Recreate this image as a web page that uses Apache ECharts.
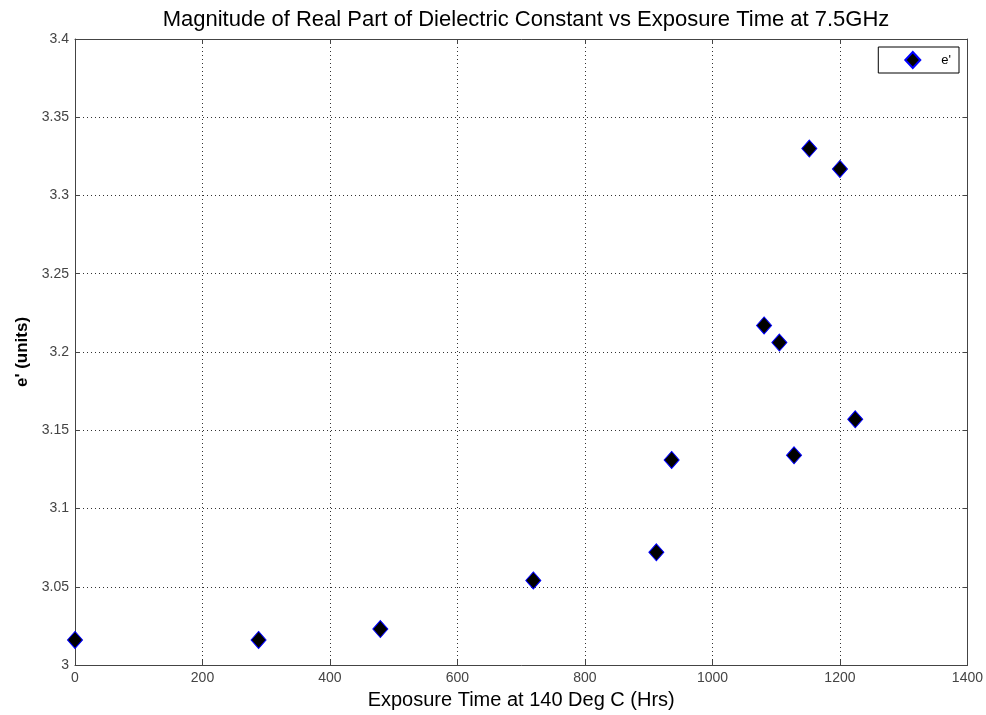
<!DOCTYPE html>
<html>
<head>
<meta charset="utf-8">
<script src="https://cdn.jsdelivr.net/npm/echarts@6/dist/echarts.min.js"></script>
<style>
html,body{margin:0;padding:0;background:#fff;}
#chart{width:986px;height:715px;}
</style>
</head>
<body>
<div id="chart"></div>
<script>
const exposureHours = [0, 288, 479, 719, 912, 936, 1081, 1105, 1128, 1152, 1200, 1224];
const ePrime = [3.016, 3.016, 3.023, 3.054, 3.072, 3.131, 3.217, 3.206, 3.134, 3.330, 3.317, 3.157];
const seriesName = "e'";
const titleText = "Magnitude of Real Part of Dielectric Constant vs Exposure Time at 7.5GHz";
const xAxisName = "Exposure Time at 140 Deg C (Hrs)";
const yAxisName = "e' (units)";

const points = exposureHours.map((x, i) => [x, ePrime[i]]);
const font = "Liberation Sans, Arial, sans-serif";
const chart = echarts.init(document.getElementById('chart'), null, {renderer: 'canvas'});

const baseAxis = {
  axisLine: {show: true, onZero: false, lineStyle: {color: '#444', width: 1}},
  axisTick: {show: true, inside: true, length: 5, lineStyle: {color: '#444'}},
};

chart.setOption({
  animation: false,
  backgroundColor: '#fff',
  title: {
    text: titleText,
    left: 521, top: 4, textAlign: 'center',
    textStyle: {fontFamily: font, fontSize: 22, fontWeight: 'normal', color: '#000'}
  },
  legend: {
    right: 27, top: 47,
    orient: 'vertical',
    backgroundColor: '#fff',
    borderColor: '#000', borderWidth: 1,
    padding: [4, 8, 4, 26],
    itemWidth: 15, itemHeight: 16, itemGap: 0,
    textStyle: {fontFamily: font, fontSize: 13, color: '#000', padding: [0, 0, 0, 16]},
    data: [{name: seriesName, icon: 'diamond'}]
  },
  grid: {left: 75, top: 39, right: 18, bottom: 50, containLabel: false},
  xAxis: [
    Object.assign({}, baseAxis, {
      type: 'value', min: 0, max: 1400, interval: 200, position: 'bottom',
      name: xAxisName, nameLocation: 'middle', nameGap: 25,
      nameTextStyle: {fontFamily: font, fontSize: 20, color: '#000'},
      axisLabel: {fontFamily: font, fontSize: 14, color: '#444', margin: 6,
        formatter: v => String(v)},
      splitLine: {show: true, lineStyle: {type: [1, 3], color: '#333', width: 1}}
    }),
    Object.assign({}, baseAxis, {
      type: 'value', min: 0, max: 1400, interval: 200, position: 'top',
      axisLabel: {show: false}, splitLine: {show: false}
    })
  ],
  yAxis: [
    Object.assign({}, baseAxis, {
      type: 'value', min: 3.0, max: 3.4, interval: 0.05, position: 'left',
      name: yAxisName, nameLocation: 'middle', nameGap: 44, nameRotate: 90,
      nameTextStyle: {fontFamily: font, fontSize: 17, fontWeight: 'bold', color: '#000'},
      axisLabel: {fontFamily: font, fontSize: 14, color: '#444', margin: 6,
        formatter: v => String(parseFloat(v.toFixed(2)))},
      splitLine: {show: true, lineStyle: {type: [1, 3], color: '#333', width: 1}}
    }),
    Object.assign({}, baseAxis, {
      type: 'value', min: 3.0, max: 3.4, interval: 0.05, position: 'right',
      axisLabel: {show: false}, splitLine: {show: false}
    })
  ],
  series: [{
    name: seriesName,
    type: 'scatter',
    xAxisIndex: 0, yAxisIndex: 0,
    symbol: 'diamond',
    symbolSize: [15, 17],
    itemStyle: {color: '#000', borderColor: '#0000ff', borderWidth: 1, opacity: 1},
    data: points,
    z: 5
  }]
});
</script>
</body>
</html>
